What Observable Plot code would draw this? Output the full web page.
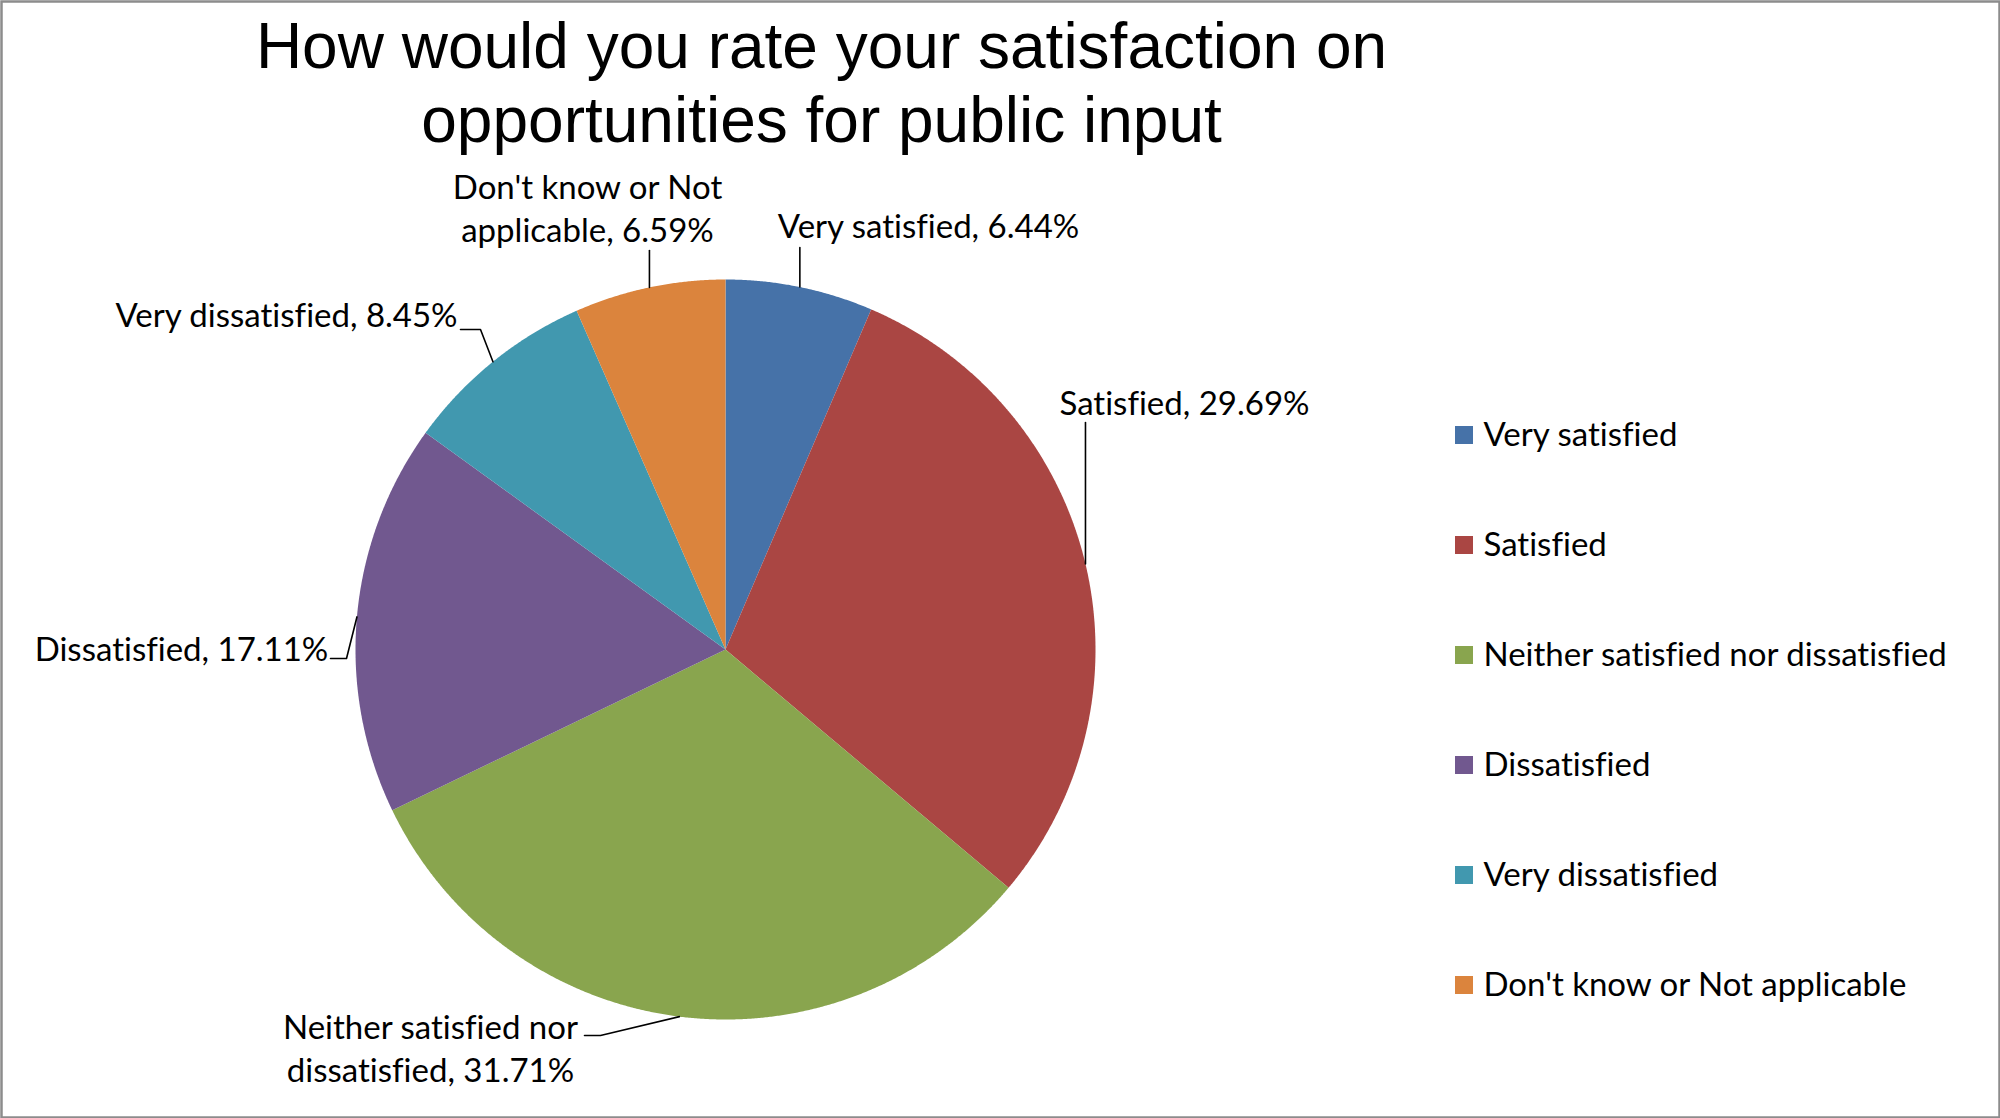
<!DOCTYPE html>
<html>
<head>
<meta charset="utf-8">
<script src="https://cdn.jsdelivr.net/npm/d3@7"></script>
<script src="https://cdn.jsdelivr.net/npm/@observablehq/plot@0.6"></script>
<style>
  html, body { margin: 0; padding: 0; background: white; }
  #chart svg { display: block; }
  #chart text { font-variant-ligatures: none; }
</style>
</head>
<body>
<div id="chart"></div>
<script>
// ---------- data ----------
const categories = [
  "Very satisfied",
  "Satisfied",
  "Neither satisfied nor dissatisfied",
  "Dissatisfied",
  "Very dissatisfied",
  "Don't know or Not applicable"
];
const percents = [6.44, 29.69, 31.71, 17.11, 8.45, 6.59];
const colors = ["#4672A8", "#AA4643", "#89A54E", "#71588F", "#4198AF", "#DB843D"];
const titleLines = ["How would you rate your satisfaction on", "opportunities for public input"];
const wrapLabel = [false, false, true, false, false, true];

// ---------- layout ----------
const W = 2000, H = 1118;
const CX = 725, CY = 649, R = 370;
// label centre and leader elbow points (null x = use the slice's anchor x)
const labelLayout = [
  {x: 928, y: 224, leader: [[null, 247]]},
  {x: 1184, y: 401, leader: [[null, 422]]},
  {x: 430, y: 1046, leader: [[584, 1035], [600, 1035]]},
  {x: 181, y: 647, leader: [[330, 658], [346, 658]]},
  {x: 286, y: 313, leader: [[460, 329], [480, 329]]},
  {x: 587, y: 206, leader: [[null, 250]]}
];
const legendX = 1455, legendTop = 435, legendStep = 110, legendBox = 18;
const labelFont = 33;

// ---------- derived ----------
const rows = categories.map((c, i) => ({category: c, value: percents[i], i}));
const arcs = d3.pie().sort(null).value(d => d.value).startAngle(0).endAngle(2 * Math.PI)(rows);
const polar = (a, r) => [CX + r * Math.sin(a), CY - r * Math.cos(a)];

const piePts = [];
arcs.forEach(a => {
  const cat = a.data.category;
  piePts.push({category: cat, x: CX, y: CY});
  const n = Math.max(8, Math.ceil((a.endAngle - a.startAngle) / 0.004));
  for (let k = 0; k <= n; k++) {
    const t = a.startAngle + (a.endAngle - a.startAngle) * k / n;
    const [x, y] = polar(t, R);
    piePts.push({category: cat, x, y});
  }
  piePts.push({category: cat, x: CX, y: CY});
});

const leaderPts = [];
const labels = [];
arcs.forEach((a, i) => {
  const mid = (a.startAngle + a.endAngle) / 2;
  const [ax, ay] = polar(mid, R);
  const L = labelLayout[i];
  L.leader.forEach(([x, y]) => leaderPts.push({category: a.data.category, x: x == null ? ax : x, y}));
  leaderPts.push({category: a.data.category, x: ax, y: ay});
  let name = a.data.category;
  if (wrapLabel[i]) {
    const k = name.lastIndexOf(" ");
    name = name.slice(0, k) + "\n" + name.slice(k + 1);
  }
  labels.push({text: `${name}, ${a.data.value.toFixed(2)}%`, x: L.x, y: L.y});
});

const chart = Plot.plot({
  width: W,
  height: H,
  margin: 0,
  x: {type: "identity", axis: null},
  y: {type: "identity", axis: null},
  color: {domain: categories, range: colors},
  style: {background: "white", fontFamily: "Lato, 'Open Sans', sans-serif"},
  marks: [
    Plot.frame({stroke: "#8c8c8c", strokeWidth: 2.5, inset: 1}),
    Plot.line(piePts, {x: "x", y: "y", z: "category", fill: "category", stroke: "none", curve: "linear"}),
    Plot.line(leaderPts, {x: "x", y: "y", z: "category", stroke: "black", strokeWidth: 1.6}),
    Plot.text(labels, {x: "x", y: "y", text: "text", fontSize: labelFont, lineHeight: 1.3, textAnchor: "middle", lineAnchor: "middle", fill: "black"}),
    Plot.text(titleLines, {x: () => 821, y: (d, i) => 47 + i * 74, text: d => d, fontSize: 64, fontFamily: "'Liberation Sans', Arial, sans-serif", fill: "black", textAnchor: "middle", lineAnchor: "middle"}),
    Plot.rect(categories, {
      x1: () => legendX, x2: () => legendX + legendBox,
      y1: (d, i) => legendTop + i * legendStep - legendBox / 2,
      y2: (d, i) => legendTop + i * legendStep + legendBox / 2,
      fill: d => d
    }),
    Plot.text(categories, {x: () => legendX + legendBox + 10, y: (d, i) => legendTop + i * legendStep, text: d => d, fontSize: labelFont, textAnchor: "start", lineAnchor: "middle", fill: "black"})
  ]
});
document.getElementById("chart").appendChild(chart);
</script>
</body>
</html>
